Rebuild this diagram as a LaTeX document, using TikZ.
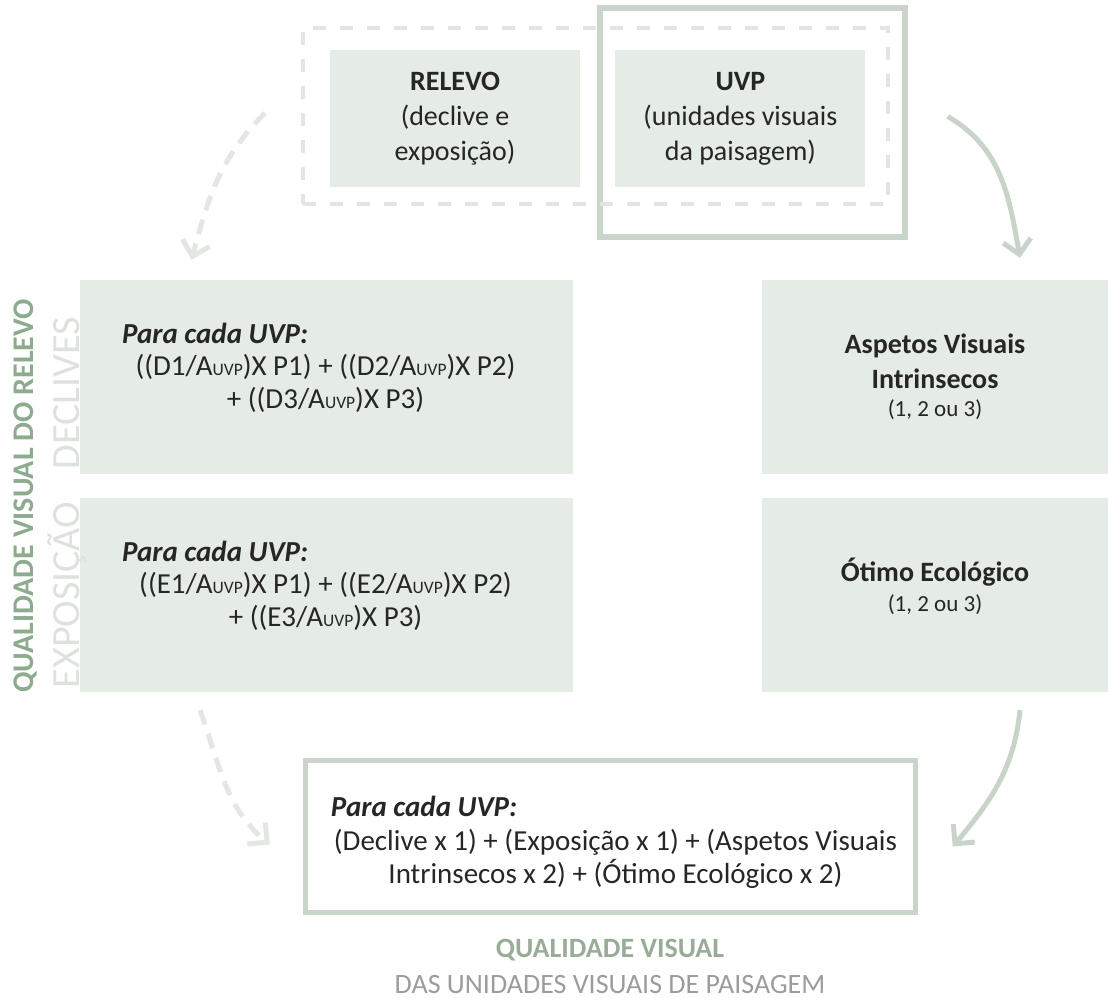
\documentclass[tikz,border=0pt]{standalone}
\usepackage{fontspec}
\setmainfont{Carlito}
\usetikzlibrary{arrows.meta}
\usetikzlibrary{positioning}
\usetikzlibrary{calc}
\definecolor{boxFill}{HTML}{E5EBE5}
\definecolor{frameGreen}{HTML}{C9D5C9}
\definecolor{dashGrey}{HTML}{E3E5E3}
\definecolor{arrowLight}{HTML}{E2E7E2}
\definecolor{arrowGreen}{HTML}{C8D4C8}
\definecolor{titleGreen}{HTML}{8DAB8D}
\definecolor{sideGrey}{HTML}{DCE3DC}
\definecolor{capGreen}{HTML}{98AC98}
\definecolor{capGrey}{HTML}{9C9C9C}
\definecolor{txt}{HTML}{262626}
\newcommand\fsz[2]{\fontsize{#1}{#2}\selectfont}
\newcommand\Auvp{A{\fsz{17.5}{17.5}UVP}}
\tikzset{
	greyBox/.style={rectangle, fill=boxFill, inner sep=0pt},
	frameBox/.style={rectangle, draw=frameGreen, line width=5.5pt, inner sep=0pt},
	dashFrame/.style={rectangle, draw=dashGrey, line width=4pt, dash pattern=on 13pt off 14pt, inner sep=0pt},
	boxText/.style={text=txt, align=center, font=\fsz{28}{35}},
}

\begin{document}
\begin{tikzpicture}[x=1pt, y=-1pt,
		formula/.style={text=txt, align=center, font=\fsz{29}{33}, inner sep=0pt},
		paraText/.style={text=txt, font=\fsz{29}{33}\bfseries\itshape, inner sep=0pt},
		lightFlow/.style={draw=arrowLight, line width=5pt, dash pattern=on 15pt off 10pt, -{Straight Barb[length=14pt,width=28pt]}},
		greenFlow/.style={draw=arrowGreen, line width=5pt, -{Straight Barb[length=14pt,width=28pt]}},
		sideTitle/.style={rotate=90, inner sep=0pt, text=titleGreen, font=\fsz{30}{30}\bfseries},
		sideLabel/.style={rotate=90, inner sep=0pt, text=sideGrey, font=\fsz{40}{40}}]
		
		\useasboundingbox (0,0) rectangle (1108,998);
		
		% input boxes - relevo used as start point
		\node[greyBox, boxText, minimum width=250pt, minimum height=137pt] (relevo) at (455,118.5) {\textbf{RELEVO}\\(declive e\\exposição)};
		\node[greyBox, boxText, minimum width=250pt, minimum height=137pt, right=35pt of relevo] (uvp) {\textbf{UVP}\\(unidades visuais\\da paisagem)};
		
		% frames round the inputs
		\node[frameBox, minimum width=305pt, minimum height=229pt] (uvpFrame) at (752.5,122.5) {};
		\node[dashFrame, minimum width=585pt, minimum height=176pt] (inputFrame) at (595.5,116) {};
		
		% left column: declive and exposicao formulas
		\foreach \var/\ypos/\name in {D/377/decl, E/595/expo}
		{
			\node[greyBox, minimum width=493pt, minimum height=194pt] (\name) at (326.5,\ypos) {};
			\node[formula] (\name Txt) at ($(\name)+(-1,6)$) {((\var1/\Auvp)X P1) + ((\var2/\Auvp)X P2)\\+ ((\var3/\Auvp)X P3)};
			\node[paraText, anchor=west] (\name Para) at ($(\name.west)+(42,-44)$) {Para cada UVP:};
		}
		
		% right column boxes
		\node[greyBox, boxText, minimum width=346pt, minimum height=194pt] (aspetos) at (935,377) {\textbf{Aspetos Visuais}\\\textbf{Intrinsecos}\\[-7pt]{\fsz{23}{28}(1, 2 ou 3)}};
		\node[greyBox, minimum width=346pt, minimum height=194pt] (otimo) at (935,595) {};
		\node[boxText] (otimoTxt) at ($(otimo)+(0,-9)$) {\textbf{Ótimo Ecológico}\\[-5pt]{\fsz{23}{28}(1, 2 ou 3)}};
		
		% result box
		\node[frameBox, minimum width=610pt, minimum height=152pt] (result) at (610.5,836.5) {};
		\node[formula] (resultTxt) at ($(result)+(5,22)$) {(Declive x 1) + (Exposição x 1) + (Aspetos Visuais\\Intrinsecos x 2) + (Ótimo Ecológico x 2)};
		\node[paraText, anchor=west] (resultPara) at ($(result.west)+(28,-30)$) {Para cada UVP:};
		
		% captions
		\node[anchor=base, inner sep=0pt, text=capGreen, font=\fsz{28}{28}\bfseries] (capTitle) at (610,957) {QUALIDADE VISUAL};
		\node[anchor=base, inner sep=0pt, text=capGrey, font=\fsz{28}{28}] (capSub) at (610,993) {DAS UNIDADES VISUAIS DE PAISAGEM};
		
		% vertical labels
		\node[sideTitle] (sideMain) at (26,496) {QUALIDADE VISUAL DO RELEVO};
		\node[sideLabel] (sideDecl) at (67,393) {DECLIVES};
		\node[sideLabel] (sideExpo) at (67,595) {EXPOSIÇÃO};
		
		% arrow end points
		\coordinate (relevoOut) at ($(inputFrame.west)+(-36,-3)$);
		\coordinate (declIn) at ($(decl.north)+(-135,-20)$);
		\coordinate (uvpOut) at ($(uvpFrame.east)+(40,-6)$);
		\coordinate (aspetosIn) at ($(aspetos.north)+(85,-22)$);
		\coordinate (expoOut) at ($(expo.south)+(-126.5,18)$);
		\coordinate (resultInL) at ($(result.west)+(-33,8)$);
		\coordinate (otimoOut) at ($(otimo.south)+(85,18)$);
		\coordinate (resultInR) at ($(result.east)+(34.5,10)$);
		
		% arrows
		\draw[lightFlow] (relevoOut) to[out=-135, in=75] (declIn);
		\draw[greenFlow] (uvpOut) to[out=-30, in=100] (aspetosIn);
		\draw[lightFlow] (expoOut) to[out=-70, in=140] (resultInL);
		\draw[greenFlow] (otimoOut) to[out=-96, in=50] (resultInR);
		
	\end{tikzpicture}
\end{document}
